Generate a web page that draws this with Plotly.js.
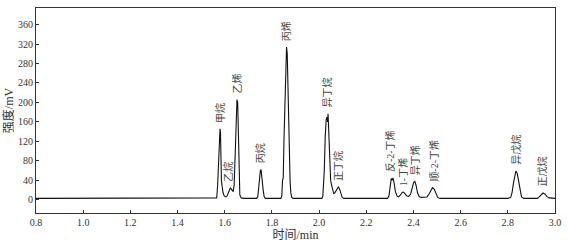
<!DOCTYPE html>
<html><head><meta charset="utf-8">
<script src="https://cdn.plot.ly/plotly-3.0.1.min.js"></script>
<style>html,body{margin:0;padding:0;background:#fff}#c{width:569px;height:246px}</style>
</head><body><div id="c"></div>
<script>
// retention time (min) and detector signal (mV)
const time = [0.8,1.560,1.566,1.570,1.574,1.577,1.580,1.582,1.584,1.586,1.589,1.593,1.598,1.604,
1.610,1.615,1.620,1.624,1.628,1.632,1.636,1.640,
1.643,1.646,1.649,1.652,1.655,1.657,1.659,1.661,1.664,1.670,1.680,
1.735,1.740,1.744,1.748,1.751,1.754,1.757,1.760,1.763,1.767,1.772,
1.838,1.842,1.845,1.848,1.851,1.855,1.859,1.862,1.865,1.868,1.871,1.874,1.877,1.880,1.884,1.890,
2.012,2.016,2.019,2.022,2.026,2.030,2.034,2.036,2.038,2.041,2.045,2.049,2.053,2.057,2.062,2.066,
2.071,2.077,2.082,2.087,2.092,2.098,2.105,
2.290,2.296,2.301,2.306,2.309,2.313,2.318,2.323,2.330,2.337,
2.345,2.352,2.358,2.365,2.372,2.380,
2.388,2.395,2.401,2.406,2.411,2.417,2.424,2.432,
2.457,2.466,2.474,2.481,2.488,2.495,2.503,2.512,
2.800,2.812,2.818,2.824,2.829,2.834,2.840,2.846,2.852,2.858,2.868,
2.925,2.933,2.941,2.949,2.957,2.965,2.975,2.985,3.0];
const signal = [3,3,4,30,90,120,146,138,80,40,28,14,8,6,
8,14,22,25,22,18,17,30,
80,150,185,206,200,160,80,30,10,4,3,
3,6,25,48,60,62,45,38,20,7,3,
3,8,40,45,120,200,260,314,300,230,150,60,40,15,5,3,
3,8,25,60,130,165,170,160,177,140,80,40,30,20,13,14,
18,25,27,22,12,5,3,
3,8,30,44,40,45,35,18,8,6,
10,15,16,13,8,7,
12,25,36,38,30,15,7,5,
6,12,20,25,22,12,5,3,
3,5,15,35,52,59,54,35,15,6,3,
3,6,11,14,12,7,4,3,3];

// peak labels
const peakNames = ['甲烷','乙烷','乙烯','丙烷','丙烯','异丁烷','正丁烷','反-2-丁烯','1-丁烯','异丁烯','顺-2-丁烯','异戊烷','正戊烷'];
const peakTimes = [1.577,1.614,1.652,1.748,1.861,2.033,2.081,2.301,2.356,2.410,2.487,2.837,2.947];
const peakHeights = [146,25,206,62,314,177,27,45,16,38,25,59,14];

const xTicks = [0.8,1.0,1.2,1.4,1.6,1.8,2.0,2.2,2.4,2.6,2.8,3.0];
const yTicks = [0,40,80,120,160,200,240,280,320,360];

const serif = 'Liberation Serif, Times New Roman, serif';
const cjk = 'Liberation Serif, Noto Sans CJK SC, serif';

const annotations = peakNames.map((n,i)=>({
  x: peakTimes[i], y: peakHeights[i], xref:'x', yref:'y',
  text: n, showarrow:false, textangle:-90,
  xanchor:'center', yanchor:'bottom', yshift:4,
  font:{family:cjk, size:10, color:'#444'}
}));

Plotly.newPlot('c',[{
  x: time, y: signal, type:'scatter', mode:'lines',
  line:{color:'#111', width:1.1}, hoverinfo:'skip'
}],{
  width:569, height:246,
  margin:{l:36,r:14,t:8,b:33},
  paper_bgcolor:'#fff', plot_bgcolor:'#fff',
  showlegend:false,
  xaxis:{range:[0.8,3.0], tickvals:xTicks, ticktext:xTicks.map(v=>v.toFixed(1)),
    ticks:'inside', ticklen:3, tickcolor:'#333', showline:true, linecolor:'#333', linewidth:1, mirror:true,
    showgrid:false, zeroline:false, tickfont:{family:serif,size:10,color:'#333'},
    title:{text:'时间/min', font:{family:cjk,size:12,color:'#333'}, standoff:0}},
  yaxis:{range:[-27,394], tickvals:yTicks,
    ticks:'inside', ticklen:3, tickcolor:'#333', showline:true, linecolor:'#333', linewidth:1, mirror:true,
    showgrid:false, zeroline:false, tickfont:{family:serif,size:10,color:'#333'},
    title:{text:'强度/mV', font:{family:cjk,size:12,color:'#333'}, standoff:1}},
  annotations: annotations
},{staticPlot:true});
</script></body></html>
